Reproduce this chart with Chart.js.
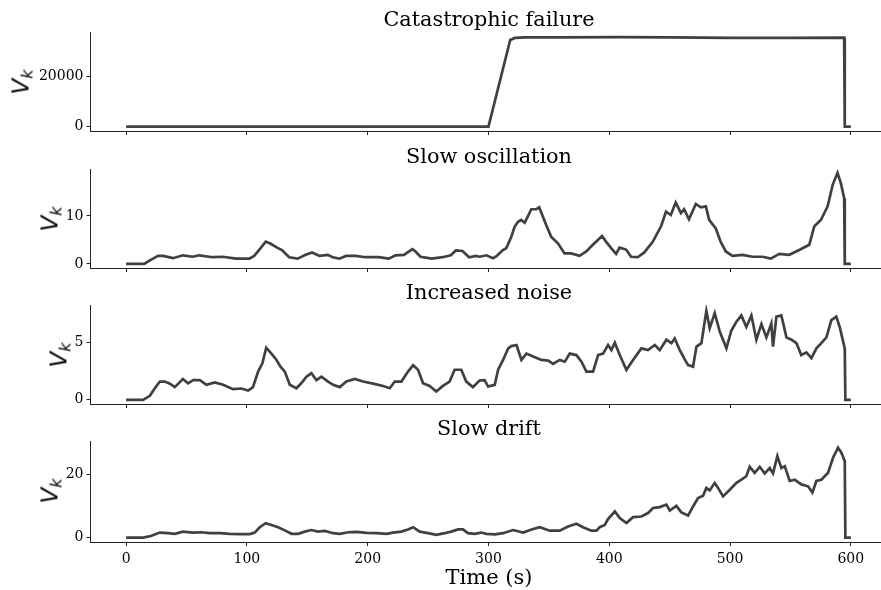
<!DOCTYPE html>
<html><head><meta charset="utf-8">
<script src="https://cdn.jsdelivr.net/npm/chart.js@4"></script>
<style>
body{margin:0;background:#fff;width:881px;height:590px;overflow:hidden;position:relative}
canvas{position:absolute;left:0}
.t{position:absolute;font-family:"DejaVu Serif",serif;font-size:20.8px;color:#000;white-space:nowrap;transform:translate(-50%,-50%)}
.yl{position:absolute;font-family:"DejaVu Sans",sans-serif;font-size:23px;color:#000;white-space:nowrap;transform:translate(-50%,-50%) rotate(-90deg)}
.yl i{font-style:italic}
.yl sub{font-size:0.7em;font-style:italic;vertical-align:-0.25em}
</style></head><body>
<script>
// ---------- data ----------
const titles = ["Catastrophic failure", "Slow oscillation", "Increased noise", "Slow drift"];
const xLabel = "Time (s)";
const xTicks = [0, 100, 200, 300, 400, 500, 600];

const timeCat = [0, 300, 318, 322, 330, 360, 407, 450, 500, 550, 594.5, 595, 600];
const catastrophic = [0, 0, 34800, 35600, 35800, 35800, 35900, 35800, 35600, 35600, 35700, 0, 0];
const yTicksCat = [0, 20000];

const timeOsc = [0,15,20,26.5,30.6,38.9,47,55,60.6,71.6,79.9,90.9,102,106,110,115.6,119.7,125,129,135,142,148.6,154,160,166.9,171,176.5,182,190,198,209,217.5,223,230,237,239.6,243.7,253,262,268.8,273,278.5,284,289.5,292.8,298.3,303.8,306.6,312,314.8,319,321.7,324.5,327,330,332.6,335.4,339.5,342,345,347.8,352,357.5,363,368.5,375.4,381,386.4,390.6,394,397.5,401.6,405.7,408.5,414,418,423.6,429,436,443,447,451,455,459.4,462,466,471.7,475.8,480,482.7,488.2,492.3,496.5,502,510.3,518.6,527,533.8,540.7,549,557.3,565.6,569.7,575.3,580.8,585,589,591.8,594.5,595,600];
const slowOscillation = [0,0,0.8,1.67,1.67,1.2,1.8,1.5,1.8,1.4,1.5,1.1,1.1,1.67,2.9,4.65,4.2,3.4,2.9,1.4,1.1,1.9,2.4,1.67,1.9,1.4,1.1,1.67,1.67,1.4,1.4,1.1,1.8,1.9,3.1,2.6,1.5,1.1,1.4,1.8,2.8,2.7,1.4,1.67,1.5,1.8,1.2,1.6,2.9,3.3,5.7,7.8,8.8,9.2,8.6,9.9,11.4,11.4,11.8,9.9,8.1,5.6,4.3,2.2,2.2,1.7,2.6,4.0,5.0,5.8,4.6,3.3,2.1,3.4,3.0,1.5,1.4,2.4,4.6,7.9,10.9,10.2,12.8,10.6,11.4,9.3,12.5,11.8,12.0,9.2,7.4,4.6,2.6,1.7,1.9,1.5,1.5,1.1,2.1,1.9,2.9,4.0,7.8,9.2,12.0,16.5,19.0,16.8,13.7,0,0];
const yTicksOsc = [0, 10];

const timeNoise = [0,14.1,19.6,23.8,27.9,32,36.2,40.3,47,51.3,55.5,61,66.5,73.4,80.3,88.6,95.5,101,105,109.3,112.8,116,120.3,124.5,127.8,131.4,135.5,141,145,149.3,153.4,157.6,161.7,167.2,171.4,176.9,182.4,189.3,196.2,204.5,212.8,218.3,222.4,227.9,233.4,237.6,241.7,245.8,251.3,256.8,262.3,267.8,272,277.5,281.6,287.1,292.6,296.8,299.7,305.2,308,312.1,316.3,319,323.2,327.3,331.4,337,343.8,349.4,353.5,359,363.2,367.3,372.8,377,381.1,386.6,390.8,394.9,399,401.8,404.6,408.7,414.2,419.7,426.6,432.1,437.7,441.8,447.3,451.5,454.2,458.4,462.5,465.3,469.4,472.2,476.3,480.4,483.2,487.3,491.5,497,501.1,505.3,509.4,513.5,517.7,521.8,526,530.1,534.2,535.6,538.4,542.5,546.7,550.8,555,559,563.2,567.4,571.5,575.6,579.8,583.9,588,590.8,595,595.5,600];
const increasedNoise = [0,0,0.35,1.0,1.58,1.58,1.4,1.1,1.8,1.43,1.7,1.7,1.3,1.5,1.3,0.92,0.98,0.8,1.1,2.44,3.16,4.5,4.0,3.45,2.87,2.44,1.3,1.0,1.43,2.0,2.3,1.7,2.0,1.58,1.3,1.1,1.58,1.8,1.58,1.4,1.2,1.0,1.58,1.58,2.44,3.0,2.6,1.43,1.2,0.72,1.2,1.58,2.6,2.6,1.58,1.1,1.67,1.7,1.15,1.3,2.6,3.45,4.45,4.65,4.74,3.45,4.0,3.74,3.45,3.39,3.1,3.45,3.3,4.0,3.87,3.3,2.44,2.44,3.87,4.0,4.74,4.3,4.94,3.87,2.59,3.45,4.45,4.3,4.74,4.3,5.2,4.9,5.3,4.3,3.5,3.0,2.87,4.6,4.9,7.7,6.2,7.5,5.9,4.45,6.0,6.75,7.3,6.3,7.3,5.2,6.55,5.4,6.6,4.6,7.2,7.3,5.4,5.2,4.9,3.87,4.1,3.6,4.45,4.9,5.4,6.9,7.2,6.3,4.45,0,0];
const yTicksNoise = [0, 5];

const timeDrift = [0,14.1,20.5,27.9,34.8,40.3,47,55.5,62.4,69.3,77.5,85.8,94.1,102.4,106.5,110.6,115.6,120.3,125.8,131.4,136.9,142.4,147.9,153.4,158.9,164.5,171.4,176.9,183.8,190.7,199,207.3,215.5,221,227.9,233.4,237.6,243.1,250,256.8,263.7,269.2,274.8,278.9,283,288.5,294,298.3,305.2,312.1,320.4,328.7,335.6,342.5,350.7,359,365.9,372.8,378.3,385.2,389.4,392.1,396.3,399,404.6,408.7,414.2,419.7,426.6,432.1,436.3,441.8,447.3,450.1,455.6,459.7,465.3,469.4,473.5,477.7,480.4,483.2,487.3,490.1,494.2,499.8,505.3,509.4,513.5,516.3,520.4,524.6,528.7,532.9,535.6,539.2,542.5,545.3,549.4,553.6,559,564.6,568.2,571.5,575.6,581.2,585.3,589.4,592.2,595,595.5,600];
const slowDrift = [0,0,0.5,1.6,1.4,1.2,1.9,1.6,1.7,1.4,1.4,1.2,1.1,1.1,1.6,3.3,4.6,4.0,3.3,2.3,1.2,1.2,1.9,2.4,1.9,2.1,1.4,1.2,1.7,1.8,1.5,1.4,1.2,1.6,1.9,2.6,3.3,1.9,1.4,0.9,1.4,1.9,2.6,2.6,1.4,1.2,1.6,1.2,1.0,1.4,2.4,1.6,2.6,3.3,2.2,2.2,3.5,4.4,3.3,2.2,2.2,3.3,4.0,5.9,8.3,6.2,4.6,6.5,6.7,7.8,9.4,9.7,10.5,8.6,10.1,8.0,7.0,9.9,12.6,13.3,15.8,15.0,17.4,15.8,13.1,15.2,17.4,18.4,19.5,22.5,20.6,22.5,20.4,22.1,20.4,25.9,22.1,22.7,18.0,18.4,16.9,16.3,14.3,18.0,18.4,20.6,25.4,28.6,27.0,24.3,0,0];
const yTicksDrift = [0, 20];

// ---------- layout ----------
const W = 881, LEFT = 90.5;
const panels = [
  {time: timeCat, vals: catastrophic, yTicks: yTicksCat, yMin: -1790, yMax: 37700, top: 32.7, bottom: 131, ylx: 22},
  {time: timeOsc, vals: slowOscillation, yTicks: yTicksOsc, yMin: -0.85, yMax: 19.8, top: 169, bottom: 268, ylx: 51},
  {time: timeNoise, vals: increasedNoise, yTicks: yTicksNoise, yMin: -0.36, yMax: 8.2, top: 305, bottom: 404, ylx: 60},
  {time: timeDrift, vals: slowDrift, yTicks: yTicksDrift, yMin: -1.4, yMax: 30.7, top: 441, bottom: 541.5, ylx: 51}
];
const AX = '#222';
const tickFont = {family: 'DejaVu Serif', size: 14};
const zeroPad = s => { s.paddingTop = 0; s.paddingBottom = 0; s.paddingLeft = 0; s.paddingRight = 0; };

panels.forEach((p, i) => {
  const last = i === panels.length - 1;
  const xH = last ? 28 : 8;
  const cTop = Math.floor(p.top) - 6;
  const padTop = p.top - cTop;
  const h = Math.ceil(padTop + (p.bottom - p.top) + xH);
  const cv = document.createElement('canvas');
  cv.width = W; cv.height = h;
  cv.style.top = cTop + 'px'; cv.style.width = W + 'px'; cv.style.height = h + 'px';
  document.body.appendChild(cv);

  new Chart(cv, {
    type: 'line',
    data: {datasets: [{
      data: p.time.map((t, k) => ({x: t, y: p.vals[k]})),
      borderColor: '#404040', borderWidth: 2.7, pointRadius: 0, tension: 0, fill: false
    }]},
    options: {
      responsive: false, animation: false, devicePixelRatio: 1,
      layout: {padding: {top: padTop, right: 0, bottom: 0, left: 0}},
      plugins: {legend: {display: false}, tooltip: {enabled: false}, title: {display: false}},
      scales: {
        x: {
          type: 'linear', min: -29.5, max: 625,
          afterBuildTicks: s => { s.ticks = xTicks.map(v => ({value: v})); },
          afterFit: s => { s.height = xH; zeroPad(s); },
          grid: {drawOnChartArea: false, drawTicks: true, tickLength: 4, color: AX, lineWidth: 1},
          border: {display: true, color: AX, width: 1},
          ticks: {display: true, color: last ? '#000' : 'rgba(0,0,0,0)', font: tickFont, padding: 5, maxRotation: 0, autoSkip: false}
        },
        y: {
          type: 'linear', min: p.yMin, max: p.yMax,
          afterBuildTicks: s => { s.ticks = p.yTicks.map(v => ({value: v})); },
          afterFit: s => { s.width = LEFT; zeroPad(s); },
          grid: {drawOnChartArea: false, drawTicks: true, tickLength: 4, color: AX, lineWidth: 1},
          border: {display: true, color: AX, width: 1},
          ticks: {color: '#000', font: tickFont, padding: 3, callback: v => String(v)}
        }
      }
    }
  });

  const t = document.createElement('div');
  t.className = 't'; t.textContent = titles[i];
  t.style.left = '489px'; t.style.top = (p.top - 13.5) + 'px';
  document.body.appendChild(t);

  const yl = document.createElement('div');
  yl.className = 'yl'; yl.innerHTML = '<i>V</i><sub>k</sub>';
  yl.style.left = p.ylx + 'px'; yl.style.top = ((p.top + p.bottom) / 2) + 'px';
  document.body.appendChild(yl);
});

const xl = document.createElement('div');
xl.className = 't'; xl.textContent = xLabel; xl.style.fontSize = '21px';
xl.style.left = '489px'; xl.style.top = '577px';
document.body.appendChild(xl);
</script>
</body></html>
